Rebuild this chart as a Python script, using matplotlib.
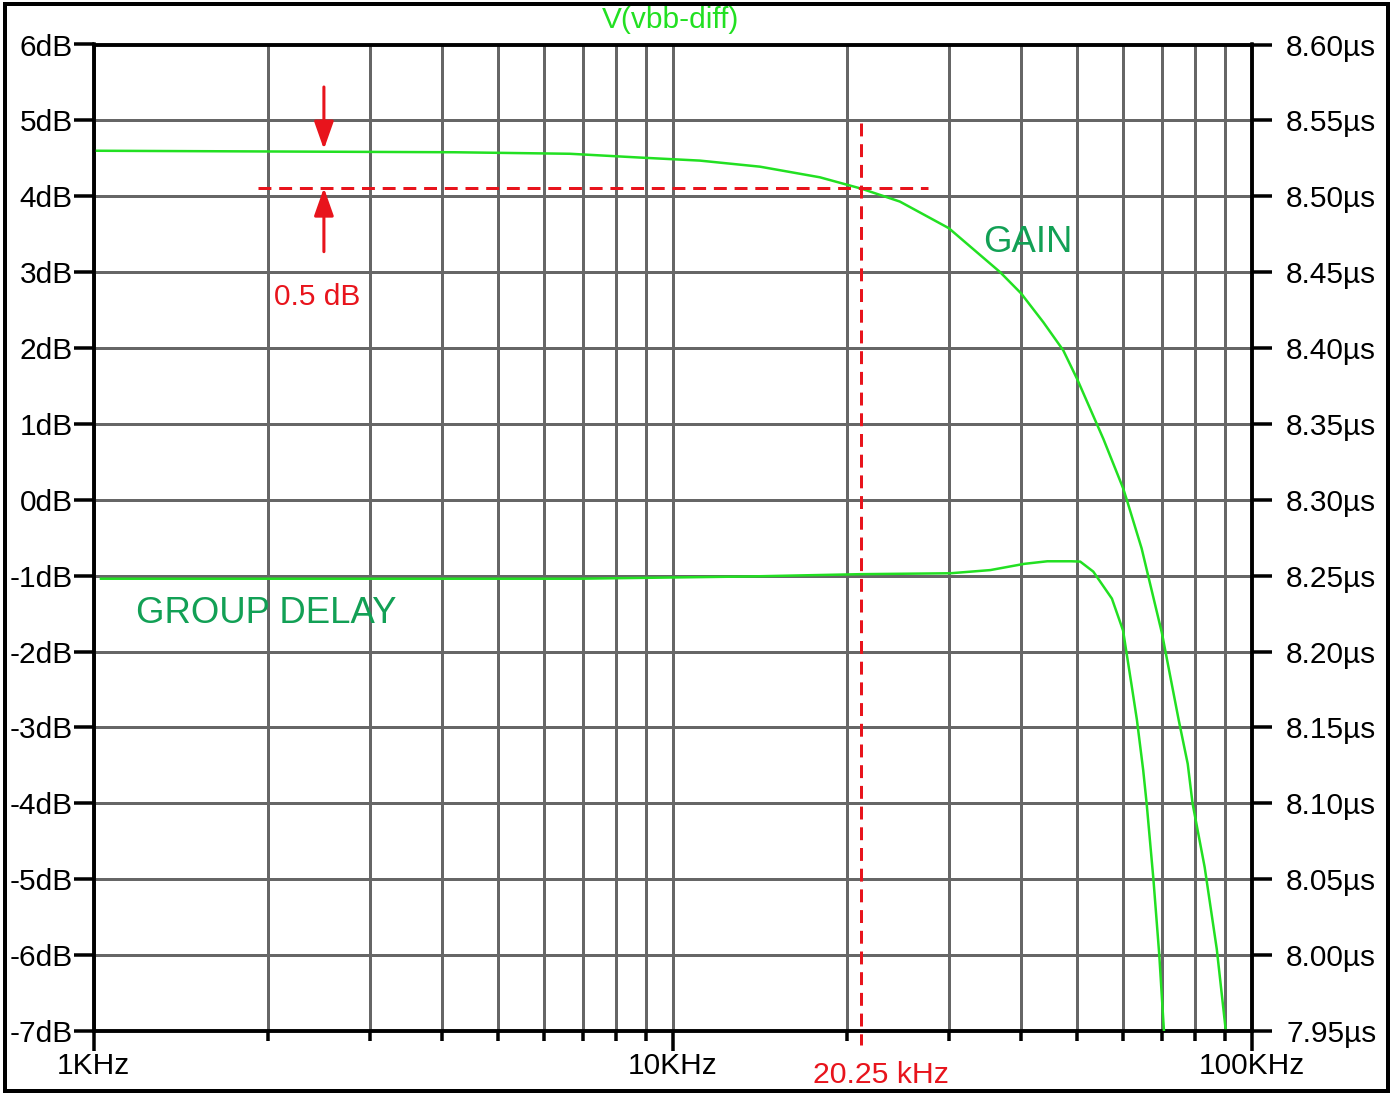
import numpy as np
import matplotlib
matplotlib.use('Agg')
import matplotlib.pyplot as plt
from matplotlib.patches import Rectangle
from matplotlib.ticker import FixedLocator, NullFormatter

plt.rcParams['font.family'] = ['Liberation Sans', 'DejaVu Sans']

# ---------------- data ----------------
gain_freq_khz = [1.0, 4.21, 6.65, 8.79, 11.15, 14.16, 17.97, 21.2, 24.7, 30.0,
                 36.8, 40.0, 43.7, 47.3, 50.0, 55.5, 60.0, 60.9, 64.6,
                 66.3, 70.0, 74.9, 77.6, 79.1, 83.0, 87.1, 90.3]
gain_db = [4.60, 4.58, 4.56, 4.51, 4.47, 4.39, 4.25, 4.10, 3.93, 3.58,
           3.00, 2.72, 2.34, 1.97, 1.59, 0.80, 0.155, 0.0, -0.64,
           -1.0, -1.75, -2.91, -3.48, -4.0, -4.84, -5.92, -7.0]

gd_freq_khz = [1.03, 6.9, 13.6, 21.1, 30.2, 35.4, 40.5, 44.4, 48.8, 50.6,
               53.3, 57.4, 60.0, 62.1, 63.4, 65.0, 65.9, 67.7, 69.3, 70.6]
gd_us = [8.248, 8.248, 8.2495, 8.251, 8.2516, 8.2537, 8.2578, 8.2595, 8.2595,
         8.2593, 8.2527, 8.2349, 8.2139, 8.1774, 8.155, 8.122, 8.100, 8.050,
         8.000, 7.950]

db_ticks = list(range(-7, 7))
db_labels = [f"{v}dB" for v in db_ticks]
us_ticks = [7.95 + 0.05 * i for i in range(14)]
us_labels = [f"{v:.2f}\u00b5s" for v in us_ticks]
x_major = [1e3, 1e4, 1e5]
x_major_labels = ["1KHz", "10KHz", "100KHz"]

corner_khz = 21.2          # marker line position as drawn
corner_label = "20.25 kHz"
ref_level_db = 4.11        # -0.5 dB level
flat_db = 4.62
arrow_khz = 2.5

# ---------------- figure ----------------
W, H, DPI = 1394, 1098, 100
fig = plt.figure(figsize=(W / DPI, H / DPI), dpi=DPI)
fig.patch.set_facecolor('white')

L, R, T, B = 93.5, 1251.5, 44.5, 1031
ax = fig.add_axes([L / W, 1 - B / H, (R - L) / W, (B - T) / H])
ax.set_xscale('log')
ax.set_xlim(1e3, 1e5)
ax.set_ylim(-7, 6)

grid_c = '#666666'
px = 0.72
fs = 21.5
ax.xaxis.set_major_locator(FixedLocator(x_major))
minor = [m * d for d in (1e3, 1e4) for m in range(2, 10)]
ax.xaxis.set_minor_locator(FixedLocator(minor))
ax.xaxis.set_minor_formatter(NullFormatter())
ax.set_xticklabels(x_major_labels)
ax.set_yticks(db_ticks)
ax.set_yticklabels(db_labels)
ax.grid(True, which='both', axis='x', color=grid_c, lw=3 * px)
ax.grid(True, which='major', axis='y', color=grid_c, lw=3 * px)
ax.set_axisbelow(True)

for s in ax.spines.values():
    s.set_linewidth(3.5 * px)
    s.set_color('black')

ax.tick_params(axis='x', which='major', direction='out', length=20 * px,
               width=3.5 * px, labelsize=fs, pad=0.5, top=False)
ax.tick_params(axis='x', which='minor', direction='out', length=10 * px,
               width=3.5 * px, top=False)
ax.tick_params(axis='y', which='major', direction='out', length=20 * px,
               width=3.5 * px, labelsize=fs, pad=0.5)

green = '#22e022'
ax.plot(np.array(gain_freq_khz) * 1e3, gain_db, color=green, lw=1.8, zorder=3)

ax2 = ax.twinx()
ax2.set_ylim(7.95, 8.60)
ax2.set_yticks(us_ticks)
ax2.set_yticklabels(us_labels)
ax2.tick_params(axis='y', direction='out', length=20 * px, width=3.5 * px,
                labelsize=fs, pad=10.5)
for s in ax2.spines.values():
    s.set_linewidth(3.5 * px)
    s.set_color('black')
ax2.plot(np.array(gd_freq_khz) * 1e3, gd_us, color=green, lw=1.8, zorder=3)

# red annotations (drawn on top, in dB coordinates)
red = '#e8141c'
dash = (0, (4.3, 2.6))
ax2.plot([1.925e3, 27.6e3], [ref_level_db, ref_level_db], color=red,
         lw=3 * px, ls=dash, transform=ax.transData, zorder=5)
ax2.plot([corner_khz * 1e3, corner_khz * 1e3], [4.97, -7.18], color=red,
         lw=3 * px, ls=dash, transform=ax.transData, zorder=5, clip_on=False)
astyle = '-|>,head_length=0.85,head_width=0.3'
ax2.annotate('', xy=(arrow_khz * 1e3, flat_db), xytext=(arrow_khz * 1e3, 5.44),
             xycoords=ax.transData, textcoords=ax.transData,
             arrowprops=dict(arrowstyle=astyle, color=red, lw=2.2,
                             mutation_scale=20, shrinkA=0, shrinkB=0))
ax2.annotate('', xy=(arrow_khz * 1e3, ref_level_db), xytext=(arrow_khz * 1e3, 3.27),
             xycoords=ax.transData, textcoords=ax.transData,
             arrowprops=dict(arrowstyle=astyle, color=red, lw=2.2,
                             mutation_scale=20, shrinkA=0, shrinkB=0))

# texts
lab_green = '#12a055'
fig.text(317.5 / W, 1 - 305 / H, "0.5 dB", color=red, fontsize=fs,
         ha='center', va='baseline')
fig.text(880.8 / W, 1 - 1083 / H, corner_label, color=red, fontsize=fs + 0.3,
         ha='center', va='baseline')
fig.text(1027.5 / W, 1 - 251.7 / H, "GAIN", color=lab_green, fontsize=26.3,
         ha='center', va='baseline')
fig.text(266.7 / W, 1 - 623 / H, "GROUP DELAY", color=lab_green, fontsize=26.3,
         ha='center', va='baseline')
fig.text(671 / W, 1 - 27.5 / H, "V(vbb-diff)", color=green, fontsize=21.5,
         ha='center', va='baseline')

# outer frame
fig.patches.append(Rectangle((5 / W, 1 - 1091 / H), (1388 - 5) / W, (1091 - 4) / H,
                             transform=fig.transFigure, fill=False,
                             edgecolor='black', lw=4 * px))

fig.savefig('out.png', dpi=DPI)
